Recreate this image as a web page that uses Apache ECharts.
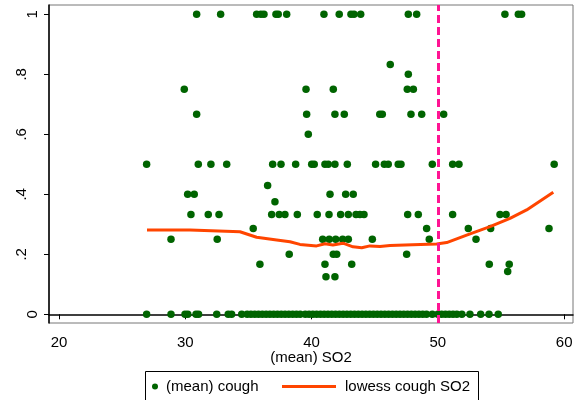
<!DOCTYPE html>
<html>
<head>
<meta charset="utf-8">
<script src="https://cdn.jsdelivr.net/npm/echarts@6/dist/echarts.min.js"></script>
<style>
  html, body { margin: 0; padding: 0; background: #fff; }
  #chart { width: 584px; height: 400px; }
</style>
</head>
<body>
<div id="chart"></div>
<script>
// SO2 values of the (mean) cough points, one list per cough level
const so2AtOne = [30.90, 32.80, 35.65, 35.99, 36.23, 37.18, 37.36, 38.03, 40.98, 42.19, 43.12, 43.36, 43.89, 47.66, 48.32, 55.31, 56.37, 56.63];
const so2At833 = [46.23];
const so2At800 = [47.66];
const so2At750 = [29.92, 39.56, 41.72, 47.58, 48.06];
const so2At667 = [30.90, 39.61, 41.85, 42.59, 45.40, 45.60, 47.87, 48.72, 50.46];
const so2At600 = [39.74];
const so2At500 = [26.94, 31.03, 32.03, 33.28, 36.92, 37.58, 38.74, 40.01, 40.21, 41.06, 41.32, 41.85, 42.83, 45.07, 45.76, 46.07, 46.86, 47.08, 49.56, 51.17, 51.67, 59.21];
const so2At429 = [36.52];
const so2At400 = [30.19, 30.71, 41.46, 42.70, 43.30];
const so2At375 = [37.10];
const so2At333 = [30.45, 31.82, 32.67, 36.84, 37.44, 37.89, 38.87, 40.45, 41.38, 42.30, 42.91, 43.52, 43.83, 44.15, 47.61, 48.45, 51.17, 54.92, 55.40];
const so2At286 = [35.38, 49.11, 52.41, 54.18, 58.80];
const so2At250 = [28.87, 32.53, 40.88, 41.40, 41.91, 42.46, 42.91, 44.81, 49.32, 53.02];
const so2At200 = [38.23, 41.72, 41.99, 47.53];
const so2At167 = [35.91, 41.06, 43.18, 54.07, 55.65];
const so2At143 = [55.53];
const so2At125 = [41.14, 41.85];
const so2AtZero = [26.94, 28.87, 29.98, 30.20, 30.85, 31.05, 32.49, 33.40, 33.67, 34.47,
  34.9, 35.2, 35.5, 35.8, 36.1, 36.4, 36.7, 37.0, 37.3, 37.6, 37.9, 38.2, 38.5, 38.8, 39.1,
  39.5, 39.8, 40.1, 40.4, 40.7, 41.0, 41.3, 41.6, 41.9, 42.2, 42.5, 42.8, 43.1, 43.4, 43.7,
  44.0, 44.3, 44.6, 44.9, 45.2, 45.5, 45.8, 46.1, 46.4, 46.7, 47.0, 47.3, 47.6, 47.9, 48.2,
  48.5, 48.8, 49.1, 49.56, 50.0, 50.3, 50.6, 50.9, 51.2, 51.5, 51.9, 52.54, 53.39, 54.05, 54.78];

const coughLevels = [
  [1, so2AtOne], [0.833, so2At833], [0.8, so2At800], [0.75, so2At750], [0.667, so2At667],
  [0.6, so2At600], [0.5, so2At500], [0.429, so2At429], [0.4, so2At400], [0.375, so2At375],
  [0.333, so2At333], [0.286, so2At286], [0.25, so2At250], [0.2, so2At200], [0.167, so2At167],
  [0.143, so2At143], [0.125, so2At125], [0, so2AtZero]
];

// lowess smooth of cough on SO2
const lowessX = [26.97, 30.37, 34.33, 35.65, 37.24, 38.29, 39.08, 40.40, 41.06, 41.69, 42.49, 43.28, 43.97, 44.62, 45.42, 46.21, 48.00, 49.90, 50.70, 52.28, 54.13, 55.71, 57.03, 59.14];
const lowessY = [0.281, 0.281, 0.275, 0.257, 0.248, 0.242, 0.233, 0.228, 0.235, 0.231, 0.237, 0.225, 0.222, 0.228, 0.226, 0.229, 0.232, 0.234, 0.239, 0.264, 0.292, 0.320, 0.348, 0.407];

const xTicks = [20, 30, 40, 50, 60];
const yTicks = [0, 0.2, 0.4, 0.6, 0.8, 1];
const cutoffSO2 = 50;

let scatterData = [];
coughLevels.forEach(([level, xs]) => {
    xs.forEach(x => scatterData.push([x, level]));
});
const lowessData = lowessX.map((x, i) => [x, lowessY[i]]);

const fmtY = v => v === 0 ? '0' : v === 1 ? '1' : String(v).replace(/^0/, '');
const font = 'Liberation Sans, Arial, sans-serif';

let myChart = echarts.init(document.getElementById('chart'));
let option = {
    animation: false,
    backgroundColor: '#fff',
    textStyle: { fontFamily: font },
    grid: {
        left: 49, top: 5, right: 11, bottom: 77,
        show: true, borderColor: '#777', borderWidth: 1
    },
    xAxis: {
        type: 'value',
        min: 19.21, max: 60.70,
        name: '(mean) SO2',
        nameLocation: 'middle',
        nameGap: 27,
        nameMoveOverlap: false,
        nameTextStyle: { color: '#000', fontSize: 15, fontFamily: font },
        axisLine: { lineStyle: { color: '#000', width: 1.5 } },
        axisTick: { customValues: xTicks, length: 5, lineStyle: { color: '#000' } },
        axisLabel: { customValues: xTicks, color: '#000', fontSize: 15, margin: 12 },
        splitLine: { show: false }
    },
    yAxis: [{
        type: 'value',
        min: -0.029, max: 1.031,
        axisLine: { show: true, lineStyle: { color: '#000', width: 1.5 } },
        axisTick: { show: true, customValues: yTicks, length: 5, lineStyle: { color: '#000' } },
        axisLabel: { customValues: [0, 1], rotate: 90, margin: 9, color: '#000', fontSize: 15, formatter: fmtY },
        splitLine: { show: false }
    }, {
        type: 'value',
        position: 'left',
        min: -0.029, max: 1.031,
        axisLine: { show: false },
        axisTick: { show: false },
        axisLabel: { customValues: [0.2, 0.4, 0.6, 0.8], rotate: 90, margin: 20, color: '#000', fontSize: 15, formatter: fmtY },
        splitLine: { show: false }
    }],
    legend: [{
        left: 152, top: 379,
        padding: 0,
        selectedMode: false,
        itemWidth: 12, itemHeight: 6,
        textStyle: { color: '#000', fontSize: 15 },
        data: [{ name: '(mean) cough', icon: 'circle' }]
    }, {
        left: 282, top: 379,
        padding: 0,
        selectedMode: false,
        itemWidth: 54, itemHeight: 3,
        textStyle: { color: '#000', fontSize: 15, padding: [0, 0, 0, 4] },
        data: [{ name: 'lowess cough SO2', icon: 'rect' }]
    }],
    graphic: [{
        type: 'rect',
        shape: { x: 145.5, y: 371.5, width: 333, height: 40 },
        style: { fill: 'none', stroke: '#000', lineWidth: 1 }
    }],
    series: [{
        name: '(mean) cough',
        type: 'scatter',
        symbolSize: 7.5,
        color: '#006400',
        itemStyle: { opacity: 1 },
        data: scatterData
    }, {
        name: 'lowess cough SO2',
        type: 'line',
        symbol: 'none',
        color: '#ff4500',
        lineStyle: { width: 3, color: '#ff4500' },
        data: lowessData,
        markLine: {
            silent: true,
            symbol: 'none',
            label: { show: false },
            lineStyle: { color: '#ff1493', type: [8, 4], width: 3 },
            data: [{ xAxis: cutoffSO2 }]
        }
    }]
};
myChart.setOption(option);
</script>
</body>
</html>
